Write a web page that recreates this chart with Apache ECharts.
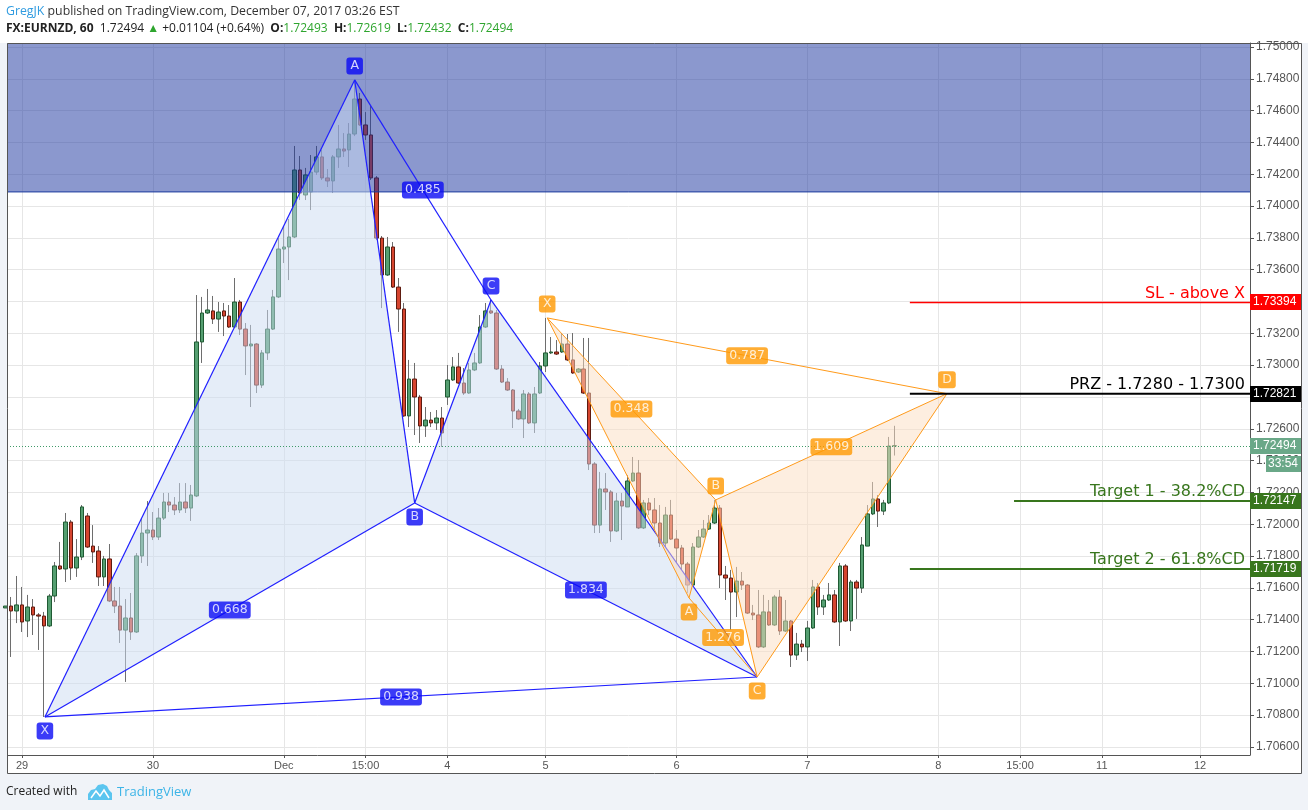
<!DOCTYPE html>
<html><head><meta charset="utf-8">
<script src="https://cdn.jsdelivr.net/npm/echarts@6/dist/echarts.min.js"></script>
<style>html,body{margin:0;padding:0;background:#fff}#c{width:1308px;height:810px}</style>
</head><body><div id="c"></div>
<script>
// ---------------- DATA ----------------
const firstBarIndex = -3;  // bar index of first visible candle (0 = Nov 29 00:00)
const opens = [
1.71474,1.71486,1.71455,
1.71493,1.71392,1.71480,1.71430,1.71423,1.71361,1.71549,1.71738,1.71719,1.72014,
1.71725,1.71794,1.72052,1.71863,1.71832,1.71669,1.71782,1.71518,1.71486,1.71335,
1.71411,1.71323,1.71801,1.71945,1.71964,1.71920,1.72039,1.72140,1.72121,1.72090,
1.72140,1.72102,1.72178,1.73146,1.73328,1.73341,1.73290,1.73341,1.73309,1.73240,
1.73397,1.73227,1.73121,1.73133,1.72875,1.73077,1.73227,1.73429,1.73730,1.73743,
1.73806,1.74227,1.74070,1.74089,1.74214,1.74309,1.74177,1.74158,1.74309,1.74359,
1.74353,1.74453,1.74673,1.74510,1.74447,1.74177,1.73799,1.73567,1.73743,1.73491,
1.73353,1.72681,1.72913,1.72800,1.72618,1.72655,1.72637,1.72668,1.72800,1.72907,
1.72989,1.72888,1.72825,1.72970,1.73014,1.73240,1.73341,1.73328,1.72976,1.72894,
1.72844,1.72712,1.72662,1.72819,1.72637,1.72825,1.72995,1.73077,1.73083,1.73083,
1.73133,1.73033,1.72957,1.72976,1.72825,1.72379,1.71995,1.72222,1.72203,1.71958,
1.72146,1.72109,1.72272,1.72322,1.71977,1.72134,1.72090,1.72008,1.71882,1.72058,
1.71907,1.71851,1.71750,1.71618,1.71857,1.71920,1.71970,1.72008,1.72102,1.71681,
1.71662,1.71574,1.71643,1.71618,1.71442,1.71430,1.71229,1.71449,1.71367,1.71543,
1.71329,1.71392,1.71178,1.71247,1.71229,1.71348,1.71606,1.71480,1.71524,1.71556,
1.71386,1.71738,1.71392,1.71637,1.71599,1.71863,1.72065,1.72159,1.72083,1.72134,
1.72493];
const closes = [
1.71486,1.71455,1.71493,
1.71386,1.71480,1.71430,1.71423,1.71361,1.71549,1.71738,1.71719,1.72014,1.71725,
1.71794,1.72109,1.71857,1.71826,1.71669,1.71782,1.71518,1.71486,1.71335,1.71411,
1.71323,1.71801,1.71945,1.71964,1.71920,1.72039,1.72140,1.72121,1.72090,1.72140,
1.72102,1.72184,1.73146,1.73328,1.73347,1.73290,1.73334,1.73309,1.73240,1.73397,
1.73227,1.73121,1.73133,1.72875,1.73077,1.73227,1.73429,1.73730,1.73743,1.73806,
1.74227,1.74082,1.74196,1.74214,1.74309,1.74177,1.74158,1.74309,1.74359,1.74346,
1.74453,1.74673,1.74510,1.74447,1.74177,1.73799,1.73567,1.73743,1.73491,1.73353,
1.72681,1.72913,1.72800,1.72618,1.72655,1.72637,1.72668,1.72574,1.72907,1.72989,
1.72888,1.72825,1.72970,1.73014,1.73240,1.73341,1.73328,1.72976,1.72894,1.72844,
1.72712,1.72662,1.72819,1.72637,1.72819,1.72995,1.73077,1.73083,1.73070,1.73133,
1.73033,1.72951,1.72976,1.72825,1.72379,1.71995,1.72222,1.72203,1.71958,1.72146,
1.72115,1.72272,1.72322,1.71977,1.72134,1.72090,1.72008,1.71882,1.72058,1.71907,
1.71851,1.71750,1.71618,1.71857,1.71920,1.71970,1.72008,1.72102,1.71681,1.71662,
1.71574,1.71643,1.71618,1.71442,1.71430,1.71229,1.71449,1.71367,1.71543,1.71329,
1.71392,1.71178,1.71247,1.71229,1.71348,1.71606,1.71480,1.71524,1.71556,1.71386,
1.71738,1.71392,1.71637,1.71599,1.71870,1.72065,1.72159,1.72083,1.72134,1.72492,
1.72494];
const lows = [
1.71449,1.71166,1.71379,
1.71323,1.71291,1.71304,1.71210,1.70789,1.71354,1.71511,1.71713,1.71637,1.71650,
1.71669,1.71775,1.71851,1.71757,1.71612,1.71612,1.71511,1.71442,1.71254,1.71009,
1.71273,1.71317,1.71757,1.71738,1.71901,1.71901,1.72027,1.72077,1.72058,1.72071,
1.72071,1.72021,1.72171,1.73014,1.73322,1.73259,1.73209,1.73183,1.73234,1.73234,
1.73190,1.72938,1.72737,1.72825,1.72857,1.73033,1.73221,1.73422,1.73642,1.73535,
1.73799,1.74038,1.74038,1.73975,1.74196,1.74164,1.74120,1.74082,1.74240,1.74309,
1.74246,1.74440,1.74504,1.74416,1.74164,1.73787,1.73359,1.73561,1.73485,1.73209,
1.72675,1.72611,1.72561,1.72511,1.72549,1.72611,1.72593,1.72486,1.72750,1.72901,
1.72882,1.72813,1.72820,1.72963,1.73008,1.73234,1.73322,1.72970,1.72888,1.72838,
1.72605,1.72655,1.72542,1.72630,1.72574,1.72819,1.72957,1.73070,1.73064,1.73077,
1.73026,1.72945,1.72951,1.72819,1.72341,1.71945,1.71945,1.72090,1.71889,1.71951,
1.71901,1.72109,1.72266,1.71970,1.71970,1.72058,1.71964,1.71857,1.71857,1.71901,
1.71757,1.71713,1.71568,1.71612,1.71851,1.71914,1.71964,1.72002,1.71599,1.71524,
1.71335,1.71417,1.71587,1.71436,1.71398,1.71222,1.71222,1.71361,1.71361,1.71304,
1.71323,1.71103,1.71147,1.71197,1.71141,1.71342,1.71430,1.71430,1.71518,1.71380,
1.71235,1.71386,1.71329,1.71405,1.71568,1.71863,1.72058,1.71983,1.72058,1.72127,
1.72432];
const highs = [
1.71524,1.71543,1.71675,
1.71606,1.71556,1.71530,1.71442,1.71449,1.71562,1.71763,1.71889,1.72071,1.72027,
1.71907,1.72121,1.72071,1.71995,1.71863,1.71801,1.71876,1.71606,1.71606,1.71530,
1.71568,1.71819,1.72033,1.72146,1.72077,1.72102,1.72197,1.72197,1.72171,1.72259,
1.72259,1.72247,1.73441,1.73429,1.73479,1.73435,1.73397,1.73391,1.73378,1.73548,
1.73410,1.73265,1.73253,1.73139,1.73095,1.73347,1.73473,1.73799,1.73869,1.73919,
1.74378,1.74315,1.74240,1.74321,1.74378,1.74353,1.74233,1.74321,1.74510,1.74459,
1.74522,1.74793,1.74711,1.74591,1.74629,1.74189,1.73812,1.73806,1.73774,1.73548,
1.73391,1.73033,1.73014,1.72813,1.72737,1.72706,1.72718,1.72737,1.73001,1.73051,
1.73077,1.72982,1.73014,1.73077,1.73315,1.73391,1.73410,1.73347,1.73001,1.72919,
1.72850,1.72725,1.72844,1.72831,1.72863,1.73020,1.73297,1.73177,1.73158,1.73202,
1.73196,1.73202,1.72982,1.73171,1.73171,1.72391,1.72329,1.72322,1.72215,1.72197,
1.72197,1.72310,1.72423,1.72404,1.72153,1.72165,1.72165,1.72121,1.72109,1.72153,
1.71964,1.71870,1.71763,1.71882,1.71964,1.72027,1.72058,1.72153,1.72121,1.71738,
1.71713,1.71732,1.71700,1.71624,1.71493,1.71587,1.71556,1.71524,1.71556,1.71587,
1.71524,1.71398,1.71317,1.71273,1.71392,1.71650,1.71631,1.71556,1.71631,1.71587,
1.71757,1.71750,1.71650,1.71650,1.71920,1.72121,1.72266,1.72184,1.72153,1.72549,
1.72619];

const timeTickIndex  = [0, 24, 48, 63, 78, 96, 120, 144, 168, 183, 198, 216];
const timeTickLabels = ['29','30','Dec','15:00','4','5','6','7','8','15:00','11','12'];
const priceTicks = [1.706,1.708,1.710,1.712,1.714,1.716,1.718,1.720,1.722,1.724,1.726,1.728,
                    1.730,1.732,1.734,1.736,1.738,1.740,1.742,1.744,1.746,1.748,1.750];

const zoneLow = 1.74089;   // supply zone lower edge

const patternLetters = ['X','A','B','C','D'];
const bluePatternIdx   = [4.2, 61, 72, 86, 134.8];
const bluePatternPrice = [1.70789, 1.74793, 1.72134, 1.73410, 1.71040];
const blueRatios = ['0.668','0.485','1.834','0.938'];       // XB, AC, BD, XD
const orangePatternIdx   = [96.3, 122.3, 127.2, 134.8, 169.6];
const orangePatternPrice = [1.73297, 1.71537, 1.72153, 1.71040, 1.72821];
const orangeRatios = ['0.348','1.276','1.609','0.787'];

const levelPrices   = [1.73394, 1.72821, 1.72147, 1.71719];
const levelStartIdx = [162.8, 162.8, 181.9, 162.8];
const levelTexts    = ['SL - above X', 'PRZ - 1.7280 - 1.7300', 'Target 1 - 38.2%CD', 'Target 2 - 61.8%CD'];
const countdownText = '33:54';

// ---------------- STYLE ----------------
const levelColors = ['#ff0000', '#000000', '#38761d', '#38761d'];
const levelWidths = [1.5, 2, 2, 2];
const tagColors   = ['#ff0000', '#000000', '#38761d', '#38761d'];
const lastColor = '#6aa888';
const UP = '#559f71', UPB = '#1f5a33', DN = '#d6452f', DNB = '#5e1b10', WICK = '#6e6e6e';
const X_MIN = -2.7504, X_MAX = 225.168;
const Y_MIN = 1.70549714, Y_MAX = 1.75025143;

const SEGS = [[0,1],[1,2],[2,3],[3,4],[0,2],[1,3],[2,4],[0,4]];
const TRIS = [[0,1,2],[2,3,4]];
const RATIO_SEGS = [[0,2],[1,3],[2,4],[0,4]];

// ---------------- BUILD ----------------
const barIdx = opens.map((_, k) => firstBarIndex + k);
const wickData = barIdx.map((x, k) => [x, opens[k], closes[k], lows[k], highs[k]]);
const bodyData = barIdx.map((x, k) => [x, opens[k], closes[k], Math.min(opens[k], closes[k]), Math.max(opens[k], closes[k])]);
const lastPrice = closes[closes.length - 1];

function patternSeries(xs, ps, ratios, showLetter, st) {
  const pts = xs.map((x, k) => [x, ps[k]]);
  const shapes = {
    type: 'custom', coordinateSystem: 'cartesian2d', data: pts, z: 4, silent: true, clip: true,
    renderItem(params, api) {
      if (params.dataIndex !== 0) return null;
      const c = pts.map(p => api.coord(p));
      const ch = [];
      TRIS.forEach(t => ch.push({ type: 'polygon', shape: { points: t.map(k => c[k]) }, style: { fill: st.fill } }));
      SEGS.forEach(s => ch.push({ type: 'line', shape: { x1: c[s[0]][0], y1: c[s[0]][1], x2: c[s[1]][0], y2: c[s[1]][1] },
        style: { stroke: st.line, lineWidth: st.lw } }));
      return { type: 'group', children: ch };
    }
  };
  const labels = [];
  RATIO_SEGS.forEach((s, k) => labels.push({
    value: [(xs[s[0]] + xs[s[1]]) / 2, (ps[s[0]] + ps[s[1]]) / 2],
    label: { formatter: ratios[k], padding: [2, 3, 1, 3] }
  }));
  xs.forEach((x, k) => {
    if (!showLetter[k]) return;
    const ref = k > 0 ? ps[k - 1] : ps[k + 1];
    const above = ps[k] > ref;
    labels.push({ value: [x, ps[k]], label: { formatter: patternLetters[k], offset: [0, above ? -14 : 14], padding: [2, 4, 1, 4] } });
  });
  const lab = {
    type: 'scatter', data: labels, symbolSize: 1, itemStyle: { color: 'rgba(0,0,0,0)' }, z: 8, silent: true,
    label: { show: true, position: 'inside', color: '#fff', backgroundColor: st.bg, borderRadius: 3,
      fontFamily: 'DejaVu Sans', fontSize: 12.5, lineHeight: 14 }
  };
  return [shapes, lab];
}

const series = [
  { type: 'candlestick', data: wickData, barWidth: 0.1, z: 2, silent: true,
    itemStyle: { color: WICK, color0: WICK, borderColor: WICK, borderColor0: WICK, borderWidth: 1 } },
  { type: 'candlestick', data: bodyData, barWidth: 4, z: 2, silent: true,
    itemStyle: { color: UP, color0: DN, borderColor: UPB, borderColor0: DNB, borderWidth: 1 } },
  { type: 'custom', coordinateSystem: 'cartesian2d', data: [[0, zoneLow]], z: 3, silent: true,
    renderItem(params, api) {
      const cs = params.coordSys;
      const yl = api.coord([0, zoneLow])[1];
      return { type: 'group', children: [
        { type: 'rect', shape: { x: cs.x, y: cs.y, width: cs.width, height: yl - cs.y }, style: { fill: 'rgba(24,50,158,0.5)' } },
        { type: 'line', shape: { x1: cs.x, y1: yl, x2: cs.x + cs.width, y2: yl }, style: { stroke: '#1a3a9e', lineWidth: 1 } }
      ]};
    } },
  ...patternSeries(bluePatternIdx, bluePatternPrice, blueRatios, [1,1,1,1,0],
      { fill: 'rgba(203,219,241,0.5)', line: '#1f1fff', lw: 1.2, bg: '#0a0af5' }),
  ...patternSeries(orangePatternIdx, orangePatternPrice, orangeRatios, [1,1,1,1,1],
      { fill: 'rgba(251,221,193,0.5)', line: '#ff9a1a', lw: 1, bg: '#ff9800' }),
  { type: 'custom', coordinateSystem: 'cartesian2d', data: [[0, lastPrice]], z: 5, silent: true,
    renderItem(params, api) {
      const cs = params.coordSys;
      const y = Math.round(api.coord([0, lastPrice])[1]) + 0.5;
      return { type: 'line', shape: { x1: cs.x, y1: y, x2: cs.x + cs.width, y2: y },
        style: { stroke: '#3f9a68', lineWidth: 1, lineDash: [1, 2] } };
    } },
  { type: 'custom', coordinateSystem: 'cartesian2d', data: levelPrices.map((p, k) => [levelStartIdx[k], p]), z: 6, silent: true,
    renderItem(params, api) {
      const k = params.dataIndex;
      const cs = params.coordSys;
      const p = api.coord([levelStartIdx[k], levelPrices[k]]);
      const right = cs.x + cs.width;
      return { type: 'group', children: [
        { type: 'line', shape: { x1: p[0], y1: p[1], x2: right, y2: p[1] }, style: { stroke: levelColors[k], lineWidth: levelWidths[k] } },
        { type: 'text', style: { text: levelTexts[k], x: right - 5, y: p[1] - 1, align: 'right', verticalAlign: 'bottom',
            fill: levelColors[k], font: '16px "DejaVu Sans"' } }
      ]};
    } },
  { type: 'custom', coordinateSystem: 'cartesian2d', z: 9, silent: true, clip: false,
    data: [[0, levelPrices[0]], [0, levelPrices[1]], [0, lastPrice], [0, levelPrices[2]], [0, levelPrices[3]]],
    renderItem(params, api) {
      const k = params.dataIndex;
      const cs = params.coordSys;
      const price = api.value(1);
      const y = api.coord([0, price])[1];
      const x0 = cs.x + cs.width;
      const col = k === 2 ? lastColor : tagColors[k < 2 ? k : k - 1];
      const ch = [
        { type: 'rect', shape: { x: x0, y: Math.round(y) - 8, width: 51, height: 16 }, style: { fill: col } },
        { type: 'text', style: { text: price.toFixed(5), x: x0 + 3, y: Math.round(y), verticalAlign: 'middle', align: 'left',
            fill: '#fff', font: '12px "Liberation Sans", Arial' } }
      ];
      if (k === 2) {
        ch.push({ type: 'rect', shape: { x: x0 + 16, y: Math.round(y) + 10, width: 35, height: 16 }, style: { fill: col } });
        ch.push({ type: 'text', style: { text: countdownText, x: x0 + 33, y: Math.round(y) + 18, verticalAlign: 'middle', align: 'center',
            fill: '#fff', font: '12px "Liberation Sans", Arial' } });
      }
      return { type: 'group', children: ch };
    } }
];

const option = {
  animation: false,
  backgroundColor: '#ffffff',
  grid: { left: 7, right: 58, top: 43, bottom: 55 },
  xAxis: {
    type: 'value', min: X_MIN, max: X_MAX,
    axisLine: { onZero: false, lineStyle: { color: '#555', width: 1 } },
    axisTick: { show: true, length: 3, customValues: timeTickIndex, lineStyle: { color: '#555' } },
    axisLabel: { customValues: timeTickIndex, color: '#555', fontSize: 11, fontFamily: '"Liberation Sans", Arial', margin: 5,
      formatter: v => timeTickLabels[timeTickIndex.indexOf(Math.round(v))] || '' },
    splitLine: { show: true, lineStyle: { color: '#e6e6e6', width: 1 } }
  },
  yAxis: {
    type: 'value', position: 'right', min: Y_MIN, max: Y_MAX,
    axisLine: { show: true, onZero: false, lineStyle: { color: '#555', width: 1 } },
    axisTick: { show: true, length: 4, customValues: priceTicks, lineStyle: { color: '#555' } },
    axisLabel: { customValues: priceTicks, color: '#555', fontSize: 12, fontFamily: '"Liberation Sans", Arial', margin: 6,
      formatter: v => v.toFixed(5) },
    splitLine: { show: true, lineStyle: { color: '#e6e6e6', width: 1 } }
  },
  series,
  graphic: { elements: [
    { type: 'rect', shape: { x: 0, y: 43, width: 7, height: 767 }, style: { fill: '#f0f3f8' }, z: 1 },
    { type: 'rect', shape: { x: 1301, y: 43, width: 7, height: 767 }, style: { fill: '#f0f3f8' }, z: 1 },
    { type: 'rect', shape: { x: 0, y: 773, width: 1308, height: 37 }, style: { fill: '#f0f3f8' }, z: 1 },
    { type: 'polyline', shape: { points: [[7.5, 773.5], [7.5, 43.5], [1301.5, 43.5], [1301.5, 773.5], [7.5, 773.5]] },
      style: { stroke: '#555', lineWidth: 1, fill: null }, z: 100 },
    { type: 'text', x: 6, y: 11, z: 100, style: {
      text: '{a|GregJK}{b| published on TradingView.com, December 07, 2017 03:26 EST}', verticalAlign: 'middle',
      rich: { a: { fill: '#2f9be0', fontSize: 12.3, fontFamily: 'Open Sans' }, b: { fill: '#333', fontSize: 12.3, fontFamily: 'Open Sans' } } } },
    { type: 'text', x: 6, y: 29, z: 100, style: {
      text: '{b|FX:EURNZD, 60}{n|  1.72494 }{g|▲}{n| +0.01104 (+0.64%)  }{b|O:}{g|1.72493}{b|  H:}{g|1.72619}{b|  L:}{g|1.72432}{b|  C:}{g|1.72494}',
      verticalAlign: 'middle',
      rich: { b: { fill: '#222', fontSize: 12, fontWeight: 'bold', fontFamily: 'Open Sans' },
              n: { fill: '#222', fontSize: 12, fontFamily: 'Open Sans' },
              g: { fill: '#2ea52e', fontSize: 12, fontFamily: 'Open Sans' } } } },
    { type: 'text', x: 6, y: 792, z: 100, style: { text: 'Created with', verticalAlign: 'middle', fill: '#222', font: '12px "Open Sans"' } },
    { type: 'polygon', z: 100, shape: { points: [[88,800],[88,794],[91,790],[95,789],[98,785],[103,784],[107,786],[109,790],[112,793],[112,800]] },
      style: { fill: '#5bc5ef' } },
    { type: 'polyline', z: 101, shape: { points: [[91, 798], [96, 791], [100, 796], [104, 790], [109, 798]] },
      style: { stroke: '#fff', lineWidth: 1.5, fill: null } },
    { type: 'text', x: 117, y: 792, z: 100, style: { text: 'TradingView', verticalAlign: 'middle', fill: '#3cb4e7', font: '13px "Open Sans"' } }
  ]}
};

const chart = echarts.init(document.getElementById('c'));
chart.setOption(option);
</script>
</body></html>
